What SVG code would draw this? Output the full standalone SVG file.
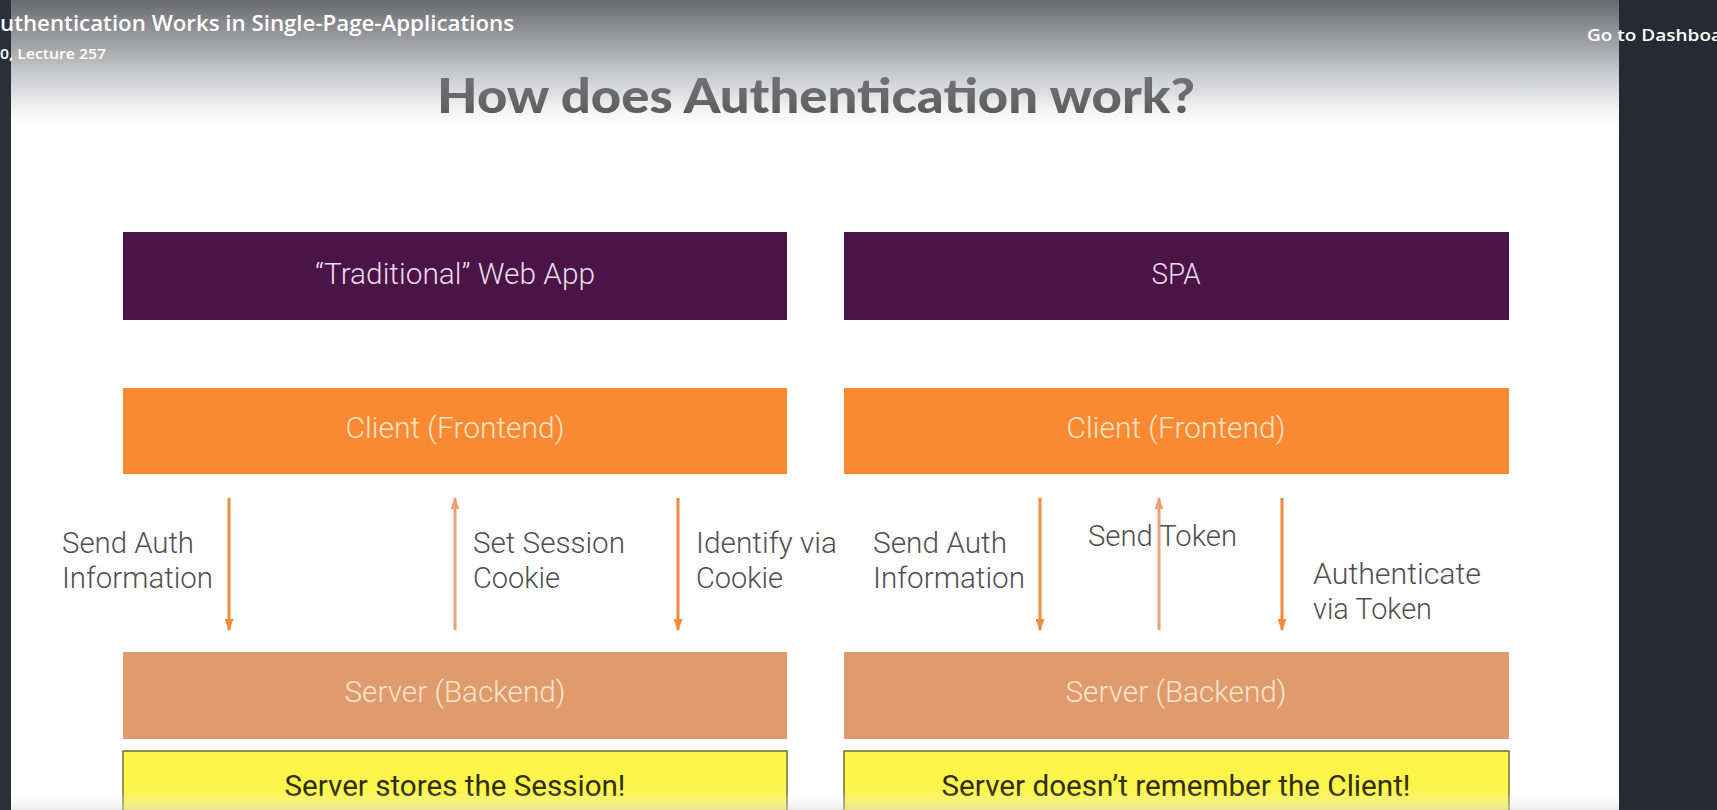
<svg xmlns="http://www.w3.org/2000/svg" width="1717" height="810" viewBox="0 0 1717 810">
<defs>
<linearGradient id="topfade" x1="0" y1="0" x2="0" y2="1">
<stop offset="0" stop-color="#5f6166" stop-opacity="0.95"/>
<stop offset="0.35" stop-color="#86878b" stop-opacity="0.75"/>
<stop offset="0.7" stop-color="#b0b1b4" stop-opacity="0.4"/>
<stop offset="1" stop-color="#ffffff" stop-opacity="0"/>
</linearGradient>
<linearGradient id="botfade" x1="0" y1="0" x2="0" y2="1">
<stop offset="0" stop-color="#ffffff" stop-opacity="0"/>
<stop offset="1" stop-color="#d8d8d8" stop-opacity="0.5"/>
</linearGradient>
<marker id="headDark" viewBox="0 0 12 9" refX="11" refY="4.5" markerWidth="12" markerHeight="9" markerUnits="userSpaceOnUse" orient="auto">
<path d="M0,0 L12,4.5 L0,9 Z" fill="#f08a3c"/>
</marker>
<marker id="headLight" viewBox="0 0 12 9" refX="11" refY="4.5" markerWidth="12" markerHeight="9" markerUnits="userSpaceOnUse" orient="auto">
<path d="M0,0 L12,4.5 L0,9 Z" fill="#e9a377"/>
</marker>
</defs>
<style>
.box{font-family:Roboto,"Liberation Sans",sans-serif;font-weight:300;font-size:29px;text-anchor:middle}
.lbl{font-family:Roboto,"Liberation Sans",sans-serif;font-weight:300;font-size:29px;fill:#505050}
.down{stroke:#f08a3c;stroke-width:3;fill:none;marker-end:url(#headDark)}
.up{stroke:#e9a377;stroke-width:3;fill:none;marker-end:url(#headLight)}
.note{font-family:Roboto,"Liberation Sans",sans-serif;font-weight:400;font-size:29px;fill:#2e2e12;text-anchor:middle}
</style>
<rect x="0" y="0" width="1717" height="810" fill="#ffffff"/>

<text x="816" y="113" font-family="Lato,'Open Sans',sans-serif" font-weight="900" font-size="47" fill="#3a3a3a" text-anchor="middle" textLength="758" lengthAdjust="spacingAndGlyphs">How does Authentication work?</text>

<g id="trad-header">
<rect x="123" y="232" width="664" height="88" fill="#4a1446"/>
<text class="box" x="455" y="284" fill="#eadcea" textLength="280" lengthAdjust="spacingAndGlyphs">“Traditional” Web App</text>
</g>
<g id="spa-header">
<rect x="844" y="232" width="665" height="88" fill="#4a1446"/>
<text class="box" x="1176" y="284" fill="#eadcea" textLength="49" lengthAdjust="spacingAndGlyphs">SPA</text>
</g>
<g id="trad-client">
<rect x="123" y="388" width="664" height="86" fill="#fa8a32"/>
<text class="box" x="455" y="438" fill="#fde3c6" textLength="219" lengthAdjust="spacingAndGlyphs">Client (Frontend)</text>
</g>
<g id="spa-client">
<rect x="844" y="388" width="665" height="86" fill="#fa8a32"/>
<text class="box" x="1176" y="438" fill="#fde3c6" textLength="219" lengthAdjust="spacingAndGlyphs">Client (Frontend)</text>
</g>
<g id="trad-server">
<rect x="123" y="652" width="664" height="87" fill="#df9b6b"/>
<text class="box" x="455" y="702" fill="#fae4d2" textLength="221" lengthAdjust="spacingAndGlyphs">Server (Backend)</text>
</g>
<g id="spa-server">
<rect x="844" y="652" width="665" height="87" fill="#df9b6b"/>
<text class="box" x="1176" y="702" fill="#fae4d2" textLength="221" lengthAdjust="spacingAndGlyphs">Server (Backend)</text>
</g>
<g id="trad-note">
<rect x="123" y="751" width="664" height="70" fill="#fdf54a" stroke="#6e6c3e" stroke-width="1.5"/>
<text class="note" x="455" y="796" textLength="341" lengthAdjust="spacingAndGlyphs">Server stores the Session!</text>
</g>
<g id="spa-note">
<rect x="844" y="751" width="665" height="70" fill="#fdf54a" stroke="#6e6c3e" stroke-width="1.5"/>
<text class="note" x="1176" y="796" textLength="469" lengthAdjust="spacingAndGlyphs">Server doesn’t remember the Client!</text>
</g>

<g id="connectors">
<line class="down" x1="229" y1="498" x2="229" y2="630"/>
<line class="up" x1="455" y1="630" x2="455" y2="498"/>
<line class="down" x1="678" y1="498" x2="678" y2="630"/>
<line class="down" x1="1040" y1="498" x2="1040" y2="630"/>
<line class="up" x1="1159" y1="630" x2="1159" y2="498"/>
<line class="down" x1="1282" y1="498" x2="1282" y2="630"/>
</g>

<g id="labels">
<text class="lbl" x="62" y="553" textLength="132" lengthAdjust="spacingAndGlyphs">Send Auth</text>
<text class="lbl" x="62" y="588" textLength="151" lengthAdjust="spacingAndGlyphs">Information</text>
<text class="lbl" x="473" y="553" textLength="152" lengthAdjust="spacingAndGlyphs">Set Session</text>
<text class="lbl" x="473" y="588" textLength="87" lengthAdjust="spacingAndGlyphs">Cookie</text>
<text class="lbl" x="696" y="553" textLength="141" lengthAdjust="spacingAndGlyphs">Identify via</text>
<text class="lbl" x="696" y="588" textLength="87" lengthAdjust="spacingAndGlyphs">Cookie</text>
<text class="lbl" x="873" y="553" textLength="134" lengthAdjust="spacingAndGlyphs">Send Auth</text>
<text class="lbl" x="873" y="588" textLength="152" lengthAdjust="spacingAndGlyphs">Information</text>
<text class="lbl" x="1088" y="546" textLength="149" lengthAdjust="spacingAndGlyphs">Send Token</text>
<text class="lbl" x="1313" y="584" textLength="168" lengthAdjust="spacingAndGlyphs">Authenticate</text>
<text class="lbl" x="1313" y="619" textLength="119" lengthAdjust="spacingAndGlyphs">via Token</text>
</g>

<rect x="0" y="0" width="1619" height="135" fill="url(#topfade)"/>
<rect x="0" y="790" width="1619" height="20" fill="url(#botfade)"/>
<rect x="0" y="0" width="11" height="810" fill="#2a2f3a"/>
<rect x="1619" y="0" width="98" height="810" fill="#262a33"/>
<text x="0" y="31" font-family="'Open Sans',sans-serif" font-weight="600" font-size="21" fill="#ffffff" textLength="514" lengthAdjust="spacingAndGlyphs">uthentication Works in Single-Page-Applications</text>
<text x="0" y="59" font-family="'Open Sans',sans-serif" font-weight="600" font-size="15" fill="#ffffff" textLength="106" lengthAdjust="spacingAndGlyphs">0, Lecture 257</text>
<text x="1587" y="41" font-family="'Open Sans',sans-serif" font-weight="600" font-size="17" fill="#ffffff" textLength="135" lengthAdjust="spacingAndGlyphs">Go to Dashboa</text>
</svg>
